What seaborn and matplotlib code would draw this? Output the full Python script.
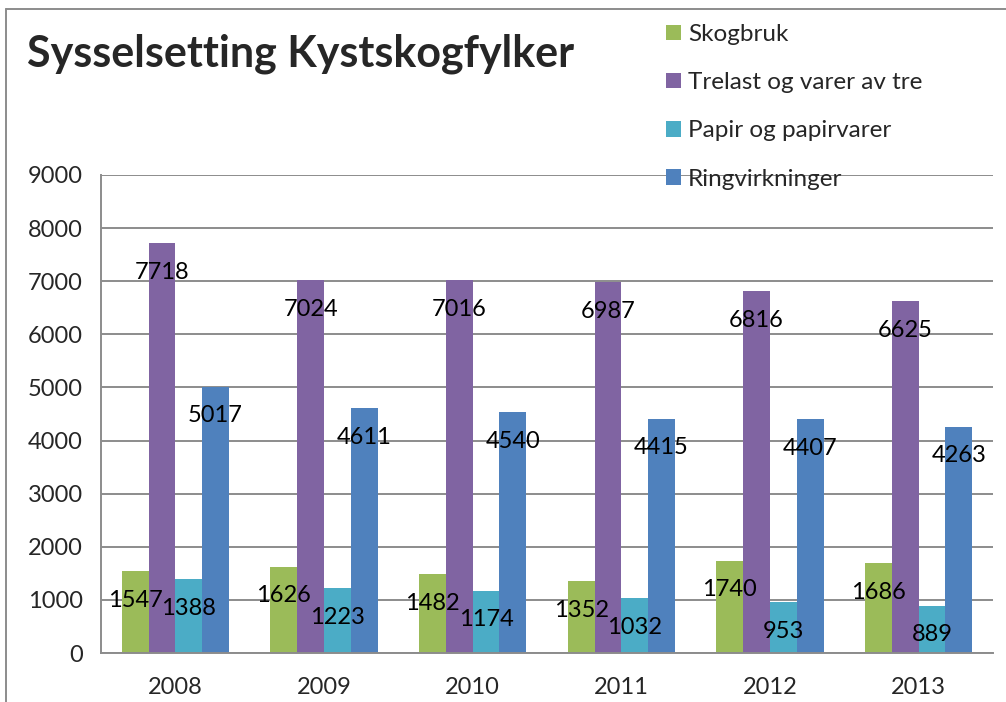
import matplotlib
matplotlib.use("Agg")
import matplotlib.pyplot as plt
import seaborn as sns
import pandas as pd
from matplotlib.lines import Line2D
from matplotlib.patches import Patch
from matplotlib.ticker import FixedLocator

years = ["2008", "2009", "2010", "2011", "2012", "2013"]
series = ["Skogbruk", "Trelast og varer av tre", "Papir og papirvarer", "Ringvirkninger"]
skogbruk = [1547, 1626, 1482, 1352, 1740, 1686]
trelast = [7718, 7024, 7016, 6987, 6816, 6625]
papir = [1388, 1223, 1174, 1032, 953, 889]
ringvirkninger = [5017, 4611, 4540, 4415, 4407, 4263]
colors = ["#9BBB59", "#8064A2", "#4BACC6", "#4F81BD"]

rows = []
for name, vals in zip(series, [skogbruk, trelast, papir, ringvirkninger]):
    for y, v in zip(years, vals):
        rows.append({"year": y, "series": name, "value": v})
df = pd.DataFrame(rows)

sns.set_style("white")
plt.rcParams["font.family"] = ["Lato", "DejaVu Sans"]

fig = plt.figure(figsize=(10.06, 7.02), dpi=100)
ax = fig.add_axes([101 / 1006, 1 - 653 / 702, (993 - 101) / 1006, (653 - 175) / 702])

sns.barplot(data=df, x="year", y="value", hue="series", hue_order=series,
            palette=colors, saturation=1, width=0.72, gap=0, legend=False,
            linewidth=0, ax=ax)

# verdietiketter litt under toppen av hver stolpe
for cont in ax.containers:
    for bar in cont:
        h = bar.get_height()
        ax.annotate(f"{h:.0f}", (bar.get_x() + bar.get_width() / 2, h),
                    xytext=(0, -21), textcoords="offset points",
                    ha="center", va="center", fontsize=17, color="black", zorder=5)

ax.set_ylim(0, 9000)
ax.set_xlim(-0.5, 5.5)
ax.set_yticks(range(0, 9001, 1000))
ax.set_xlabel("")
ax.set_ylabel("")
ax.grid(axis="y", color="#8c8c8c", linewidth=1.4)
ax.set_axisbelow(True)
for s in ["top", "right"]:
    ax.spines[s].set_visible(False)
for s in ["left", "bottom"]:
    ax.spines[s].set_color("#8c8c8c")
    ax.spines[s].set_linewidth(1.4)
ax.tick_params(axis="y", length=7, width=1.4, color="#8c8c8c", labelsize=17, pad=6)
ax.tick_params(axis="x", which="major", length=0, labelsize=17, pad=17)
ax.xaxis.set_minor_locator(FixedLocator([i - 0.5 for i in range(len(years) + 1)]))
ax.tick_params(axis="x", which="minor", length=7, width=1.4, color="#8c8c8c")

fig.text(27 / 1006, 1 - 66 / 702, "Sysselsetting Kystskogfylker", fontsize=31,
         fontweight="bold", va="baseline", ha="left")

handles = [Patch(facecolor=c, edgecolor="none") for c in colors]
fig.legend(handles, series, loc="upper left", bbox_to_anchor=(666 / 1006, 1 - 24 / 702),
           frameon=False, fontsize=17.5, handlelength=0.6, handleheight=0.6,
           handletextpad=0.3, labelspacing=1.12, borderaxespad=0, borderpad=0)

# ramme rundt figuren
fig.add_artist(Line2D([6 / 1006, 1], [1 - 9 / 702, 1 - 9 / 702], color="#8c8c8c", lw=1.4))
fig.add_artist(Line2D([6 / 1006, 6 / 1006], [0, 1 - 9 / 702], color="#8c8c8c", lw=1.4))

fig.savefig("out.png", dpi=100)
